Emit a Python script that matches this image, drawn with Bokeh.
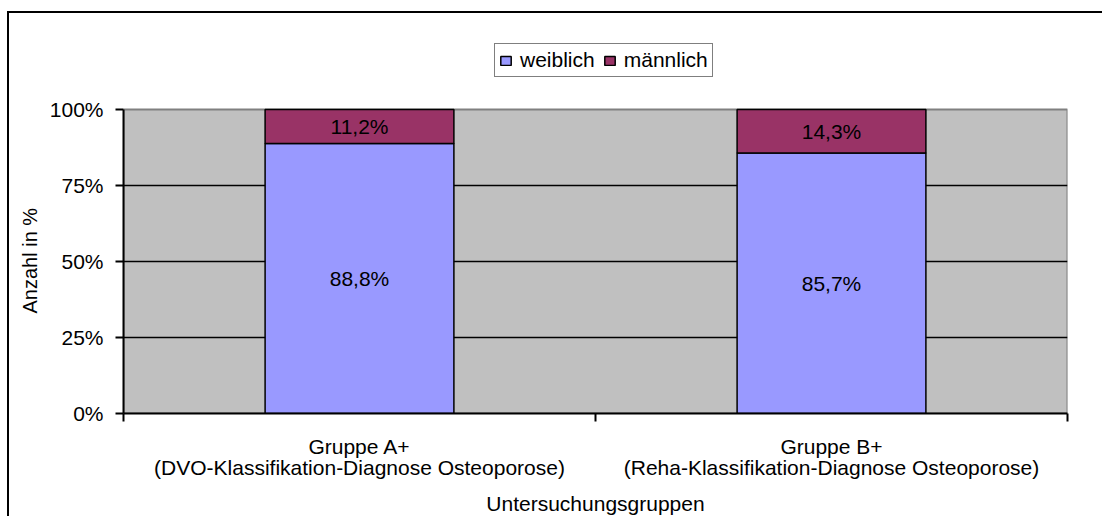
from bokeh.plotting import figure
from bokeh.models import (ColumnDataSource, FixedTicker, Legend, LegendItem,
                          Range1d, Title)
from bokeh.core.properties import value
from bokeh.embed import file_html
from bokeh.resources import INLINE

# ---- data ----
groups = ["Gruppe A+\n(DVO-Klassifikation-Diagnose Osteoporose)",
          "Gruppe B+\n(Reha-Klassifikation-Diagnose Osteoporose)"]
series = ["weiblich", "männlich"]
weiblich = [88.8, 85.7]
maennlich = [11.2, 14.3]
y_ticks = [0, 25, 50, 75, 100]
y_tick_labels = ["0%", "25%", "50%", "75%", "100%"]
colors = ["#9999FF", "#993366"]
x_title = "Untersuchungsgruppen"
y_title = "Anzahl in %"

FONT = "Liberation Sans"
FS = "21px"

# layout (pixels)
W, H = 1095, 505
FRAME_TOP, AXIS_TOP, AXIS_BOTTOM = 27, 96, 400   # in figure pixels
Y_MAX = 100.0
y_end = Y_MAX * (AXIS_BOTTOM - FRAME_TOP) / (AXIS_BOTTOM - AXIS_TOP)

xs = [i + 0.5 for i in range(len(groups))]
src = ColumnDataSource(dict(x=xs, weiblich=weiblich, maennlich=maennlich))

p = figure(width=W, height=H, output_backend="svg", toolbar_location=None,
           x_range=Range1d(0, len(groups)), y_range=Range1d(0, y_end),
           min_border_left=114, min_border_right=37, min_border_top=FRAME_TOP,
           min_border_bottom=H - AXIS_BOTTOM)
p.styles = {"border-left": "2px solid black", "border-top": "2px solid black",
            "margin-left": "7px", "margin-top": "11px"}

p.background_fill_color = "white"
p.border_fill_color = "white"
p.outline_line_color = None

# plot area (gray) with gray border
p.quad(left=0, right=len(groups), bottom=0, top=Y_MAX, fill_color="#C0C0C0",
       line_color="#808080", line_width=2, level="image")

r = p.vbar_stack(["weiblich", "maennlich"], x="x", width=0.4, source=src,
                 fill_color=colors, line_color="black", line_width=1.5)

# data labels
lbl = dict(x=[], y=[], t=[])
for i in range(len(groups)):
    lbl["x"].append(xs[i]); lbl["y"].append(weiblich[i] / 2)
    lbl["t"].append(f"{weiblich[i]:.1f}%".replace(".", ","))
    lbl["x"].append(xs[i]); lbl["y"].append(weiblich[i] + maennlich[i] / 2)
    lbl["t"].append(f"{maennlich[i]:.1f}%".replace(".", ","))
p.text(x="x", y="y", text="t", source=ColumnDataSource(lbl),
       text_font=value(FONT), text_font_size=FS, text_color="black",
       text_align="center", text_baseline="middle")

# grid
p.xgrid.visible = False
p.ygrid.ticker = FixedTicker(ticks=[25, 50, 75])
p.ygrid.grid_line_color = "black"
p.ygrid.grid_line_width = 1.5

# y axis
ya = p.yaxis[0]
ya.ticker = FixedTicker(ticks=y_ticks)
ya.bounds = (0, Y_MAX)
ya.major_label_overrides = {t: l for t, l in zip(y_ticks, y_tick_labels)}
ya.major_tick_in = 0
ya.major_tick_out = 8
ya.minor_tick_out = 0
ya.minor_tick_in = 0
ya.major_tick_line_width = 2
ya.axis_line_width = 2
ya.axis_line_color = "black"
ya.major_label_standoff = 12
ya.major_label_text_font = FONT
ya.major_label_text_font_size = FS
ya.major_label_text_color = "black"

# y axis title, centred on the 0-100 % part of the frame
ytitle = Title(text=y_title, align="left",
               offset=(AXIS_BOTTOM - AXIS_TOP) / 2 - 52, standoff=12,
               text_font=FONT, text_font_size="20px", text_font_style="normal",
               text_color="black")
p.add_layout(ytitle, "left")

# x axis
xa = p.xaxis[0]
xa.ticker = FixedTicker(ticks=xs, minor_ticks=list(range(len(groups) + 1)))
xa.major_label_overrides = {x: g for x, g in zip(xs, groups)}
xa.major_tick_in = 0
xa.major_tick_out = 0
xa.minor_tick_in = 0
xa.minor_tick_out = 8
xa.minor_tick_line_width = 2
xa.minor_tick_line_color = "black"
xa.axis_line_width = 2
xa.axis_line_color = "black"
xa.major_label_standoff = 13
xa.major_label_text_font = FONT
xa.major_label_text_font_size = FS
xa.major_label_text_line_height = 0.95
xa.major_label_text_color = "black"
xa.major_label_text_align = "center"
xa.axis_label = x_title
xa.axis_label_text_font = FONT
xa.axis_label_text_font_size = FS
xa.axis_label_text_font_style = "normal"
xa.axis_label_text_color = "black"
xa.axis_label_standoff = 10

# legend
legend = Legend(items=[LegendItem(label=s, renderers=[rr]) for s, rr in zip(series, r)],
                orientation="horizontal", location=(371, 336),
                label_text_font=FONT, label_text_font_size=FS,
                label_text_color="black", glyph_width=13, glyph_height=11,
                label_standoff=8, spacing=8, padding=4, margin=0,
                border_line_color="black", border_line_width=1.5,
                background_fill_color="white", background_fill_alpha=1,
                label_height=20)
p.add_layout(legend, "center")

open("out.html", "w").write(file_html(p, INLINE))
